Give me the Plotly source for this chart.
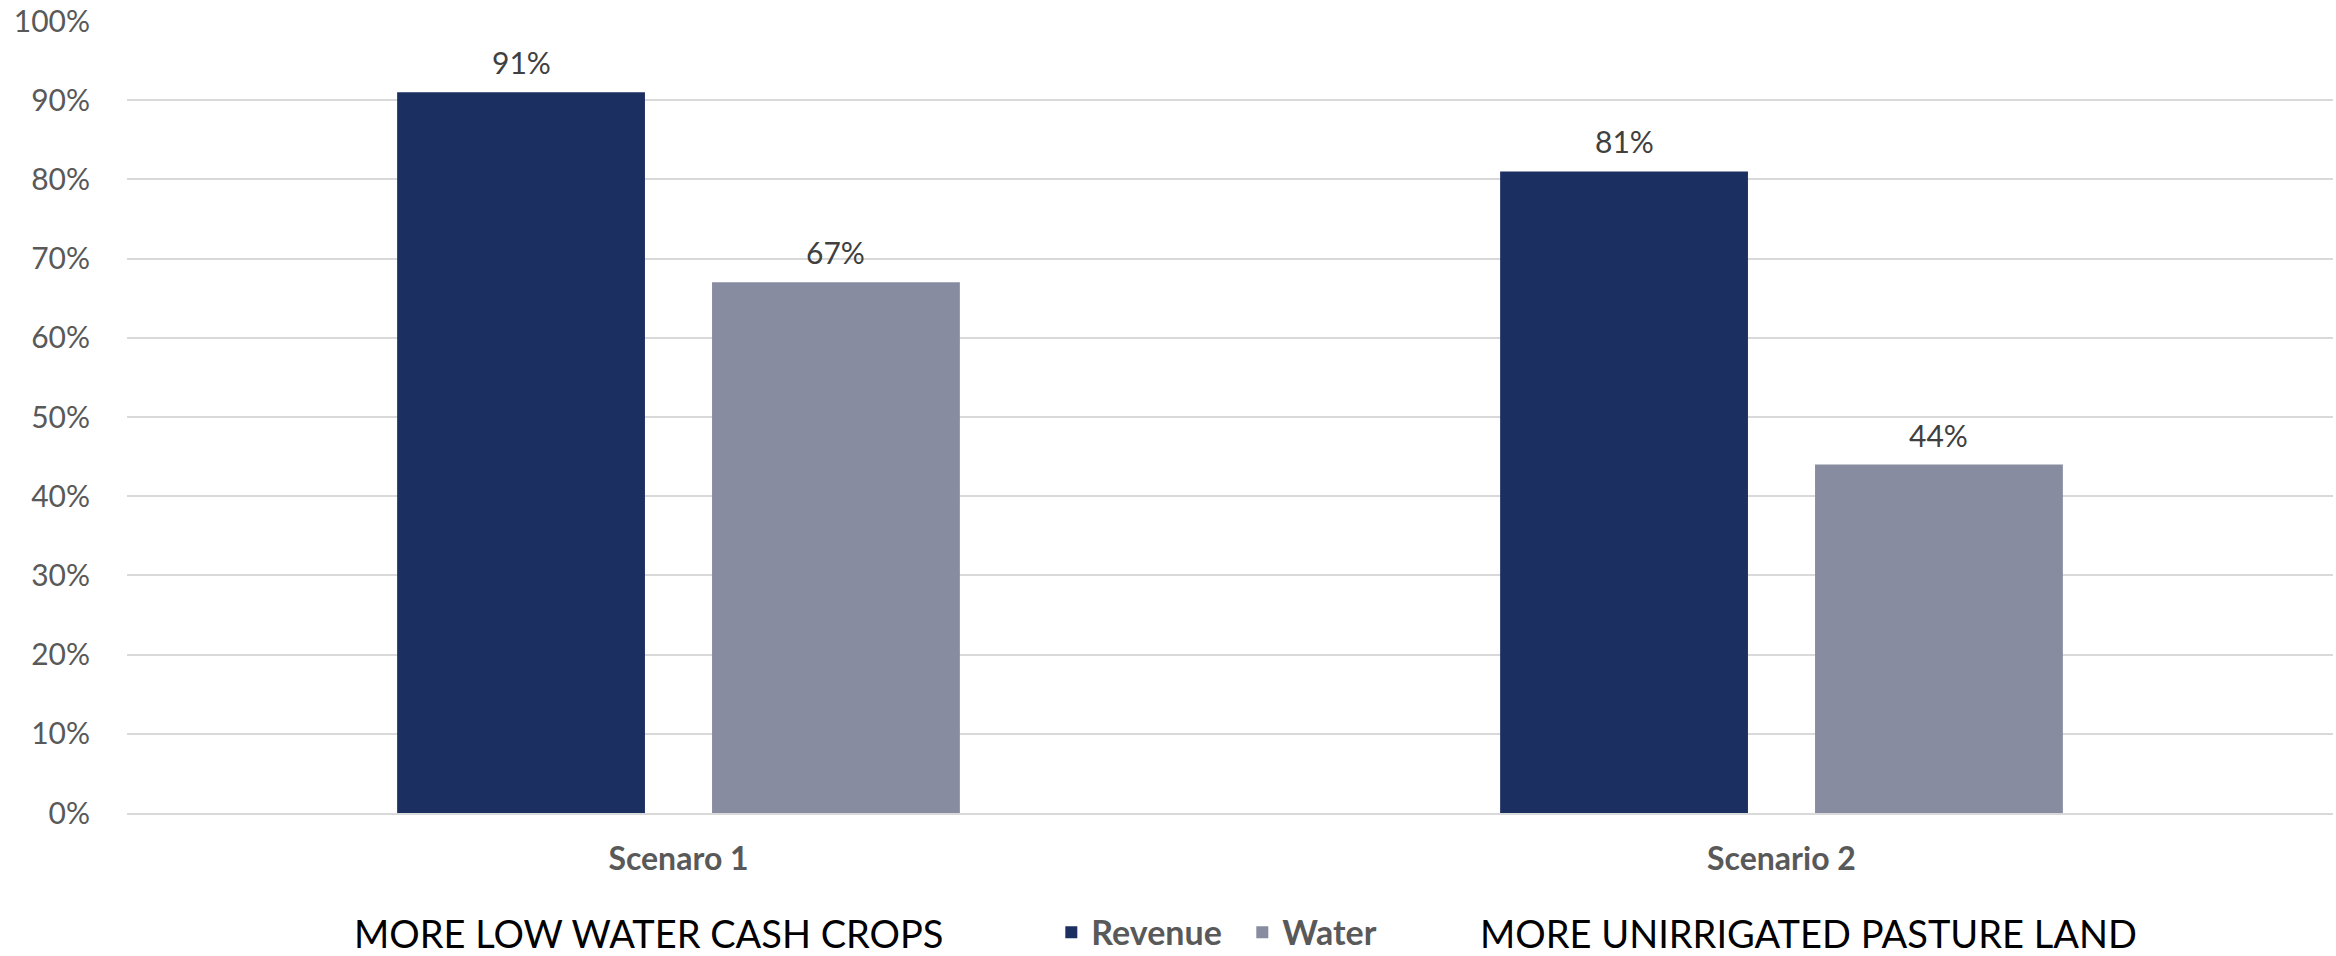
import plotly.graph_objects as go

# Scenario results, as shares of the baseline
scenarios = ["Scenaro 1", "Scenario 2"]
revenue = [0.91, 0.81]
water = [0.67, 0.44]

scenario_notes = ["MORE LOW WATER CASH CROPS", "MORE UNIRRIGATED PASTURE LAND"]

REVENUE_COLOR = "#1B3061"
WATER_COLOR = "#878CA0"
GRID_COLOR = "#D9D9D9"
BASE_FONT = "Lato, 'Open Sans', sans-serif"

WIDTH, HEIGHT = 2336, 956
MARGIN = dict(l=127, r=3, t=21, b=143)
BARGAP, BARGROUPGAP = 0.429, 0.213
BOTTOM_ROW_Y = -0.151

fig = go.Figure()
series = [("Revenue", revenue, REVENUE_COLOR), ("Water", water, WATER_COLOR)]
for name, vals, color in series:
    fig.add_trace(go.Bar(
        name=name, x=scenarios, y=vals,
        marker=dict(color=color, line=dict(width=0)),
    ))

# Value labels above each bar, lifted a little clear of the bar top
plot_w = WIDTH - MARGIN["l"] - MARGIN["r"]
slot_px = plot_w / len(scenarios) * (1 - BARGAP) / len(series)
for i, (name, vals, color) in enumerate(series):
    offset = (i - (len(series) - 1) / 2) * slot_px
    for cat, v in zip(scenarios, vals):
        fig.add_annotation(
            x=cat, y=v, xref="x", yref="y", text=f"{v:.0%}",
            showarrow=False, xanchor="center", yanchor="bottom",
            xshift=offset, yshift=10,
            font=dict(size=30, color="#404040", family=BASE_FONT),
        )

# Notes under each scenario, on the legend row
note_x = [0.102, 0.6124]
for txt, xp in zip(scenario_notes, note_x):
    fig.add_annotation(
        text=txt, x=xp, y=BOTTOM_ROW_Y, xref="paper", yref="paper",
        xanchor="left", yanchor="middle", showarrow=False,
        font=dict(size=38, color="#000000", family=BASE_FONT),
    )

fig.update_layout(
    width=WIDTH, height=HEIGHT,
    margin=dict(**MARGIN, autoexpand=False),
    paper_bgcolor="white", plot_bgcolor="white",
    barmode="group", bargap=BARGAP, bargroupgap=BARGROUPGAP,
    font=dict(family=BASE_FONT, color="#595959"),
    showlegend=True,
    legend=dict(
        orientation="h", x=0.419, y=BOTTOM_ROW_Y, xanchor="left", yanchor="middle",
        font=dict(size=34, color="#595959", family=BASE_FONT, weight="bold"),
        itemwidth=30, entrywidth=146, traceorder="normal",
        bgcolor="rgba(0,0,0,0)",
    ),
    xaxis=dict(
        showgrid=False, showline=True, linecolor=GRID_COLOR, linewidth=2,
        ticks="outside", ticklen=17, tickcolor="rgba(0,0,0,0)",
        tickfont=dict(size=32, color="#595959", family=BASE_FONT, weight="bold"),
    ),
    yaxis=dict(
        range=[0, 1], dtick=0.1, tickformat=".0%",
        showgrid=True, gridcolor=GRID_COLOR, gridwidth=2,
        zeroline=False, showline=False,
        ticks="outside", ticklen=30, tickcolor="rgba(0,0,0,0)",
        tickfont=dict(size=30, color="#595959", family=BASE_FONT),
    ),
)

fig.write_html("out.html")
